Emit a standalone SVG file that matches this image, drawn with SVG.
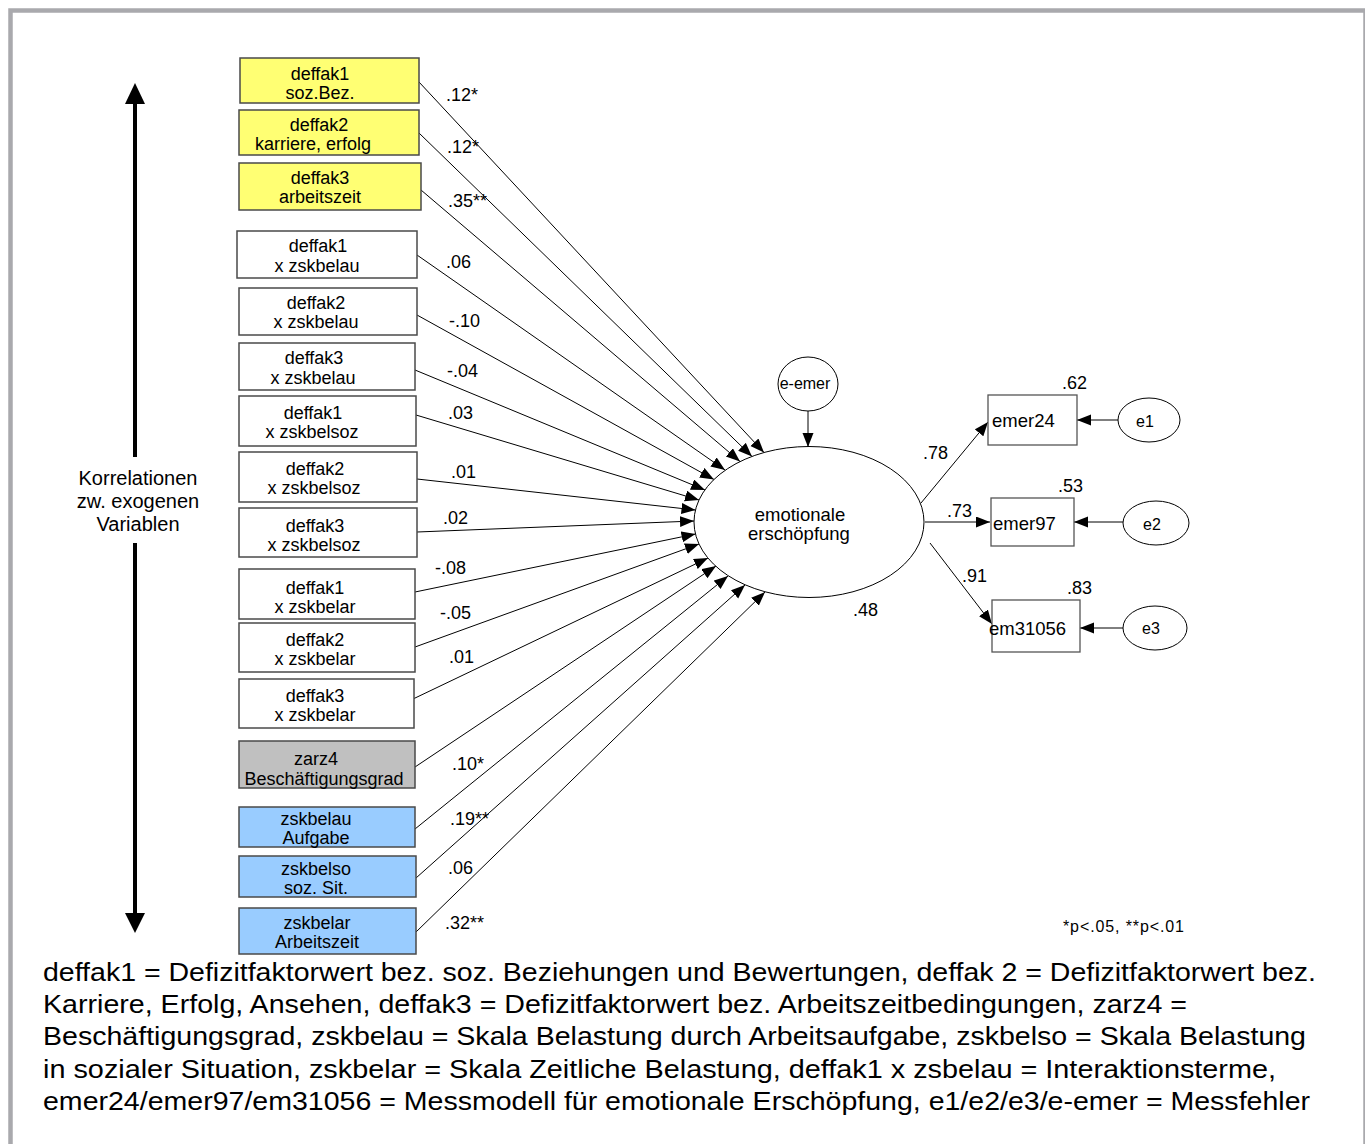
<svg xmlns="http://www.w3.org/2000/svg" width="1365" height="1144" viewBox="0 0 1365 1144">
<defs>
<style>
text{font-family:"Liberation Sans",Arial,sans-serif;fill:#000}
.bx{stroke:#4a4a4a;stroke-width:1.5}
.y{fill:#ffff73}.w{fill:#fff}.g{fill:#c0c0c0}.b{fill:#99ccff}
.bt{font-size:18px;text-anchor:middle}
.lb{font-size:18px}
.c{stroke:#000;stroke-width:1;fill:none;marker-end:url(#ah)}
.ov{fill:#fff;stroke:#000;stroke-width:1}
.rb{fill:#fff;stroke:#555;stroke-width:1.3}
.foot{font-size:26.5px}
</style>
<marker id="ah" markerUnits="userSpaceOnUse" markerWidth="15" markerHeight="12" refX="14" refY="5.5" orient="auto">
<path d="M0,0 L14,5.5 L0,11 z" fill="#000"/>
</marker>
</defs>
<rect x="0" y="0" width="1365" height="1144" fill="#fff"/>
<rect x="10.5" y="10.5" width="1355" height="1140" fill="none" stroke="#a9a9ad" stroke-width="4.5"/>

<g id="corr-arrow">
<line x1="135" y1="100" x2="135" y2="457" stroke="#000" stroke-width="4"/>
<line x1="135" y1="543" x2="135" y2="916" stroke="#000" stroke-width="4"/>
<polygon points="135,83 125,104 145,104" fill="#000"/>
<polygon points="135,933 125,913 145,913" fill="#000"/>
<text x="138" y="485" font-size="20" text-anchor="middle">Korrelationen</text>
<text x="138" y="508" font-size="20" text-anchor="middle">zw. exogenen</text>
<text x="138" y="531" font-size="20" text-anchor="middle">Variablen</text>
</g>

<g id="connectors">
<line class="c" x1="419" y1="82" x2="764" y2="452.5"/>
<line class="c" x1="419" y1="133" x2="752" y2="456.5"/>
<line class="c" x1="421" y1="190" x2="740" y2="461.5"/>
<line class="c" x1="417" y1="255" x2="725" y2="470"/>
<line class="c" x1="417" y1="315" x2="714" y2="479.5"/>
<line class="c" x1="415" y1="370" x2="705" y2="490"/>
<line class="c" x1="416" y1="415" x2="699" y2="500"/>
<line class="c" x1="417" y1="479" x2="695.5" y2="510"/>
<line class="c" x1="417" y1="532" x2="694" y2="521"/>
<line class="c" x1="415" y1="592" x2="695.5" y2="534"/>
<line class="c" x1="415" y1="647" x2="699" y2="544"/>
<line class="c" x1="413" y1="699" x2="708" y2="558"/>
<line class="c" x1="415" y1="767" x2="716" y2="566"/>
<line class="c" x1="415" y1="829" x2="728" y2="576"/>
<line class="c" x1="416" y1="878" x2="745" y2="585"/>
<line class="c" x1="416" y1="932" x2="765" y2="592"/>
<line class="c" x1="808" y1="411" x2="808" y2="447"/>
<line class="c" x1="921" y1="503" x2="988" y2="422"/>
<line class="c" x1="925" y1="522" x2="990" y2="522"/>
<line class="c" x1="930" y1="543" x2="992" y2="624"/>
<line class="c" x1="1118" y1="420" x2="1077" y2="420"/>
<line class="c" x1="1123" y1="522" x2="1074" y2="522"/>
<line class="c" x1="1123" y1="628" x2="1080" y2="628"/>
<g class="lb">
<text x="446" y="101">.12*</text>
<text x="447" y="153">.12*</text>
<text x="448" y="207">.35**</text>
<text x="446" y="268">.06</text>
<text x="449" y="327">-.10</text>
<text x="447" y="377">-.04</text>
<text x="448" y="419">.03</text>
<text x="451" y="478">.01</text>
<text x="443" y="524">.02</text>
<text x="435" y="574">-.08</text>
<text x="440" y="619">-.05</text>
<text x="449" y="663">.01</text>
<text x="452" y="770">.10*</text>
<text x="450" y="825">.19**</text>
<text x="448" y="874">.06</text>
<text x="445" y="929">.32**</text>
<text x="923" y="459">.78</text>
<text x="947" y="517">.73</text>
<text x="962" y="582">.91</text>
<text x="853" y="616">.48</text>
<text x="1062" y="389">.62</text>
<text x="1058" y="492">.53</text>
<text x="1067" y="594">.83</text>
</g>
</g>

<g id="n1"><rect class="bx y" x="240" y="58" width="179" height="45"/><text class="bt" x="320" y="80">deffak1</text><text class="bt" x="320" y="99">soz.Bez.</text></g>
<g id="n2"><rect class="bx y" x="239" y="110" width="180" height="45"/><text class="bt" x="319" y="131">deffak2</text><text class="bt" x="313" y="150">karriere, erfolg</text></g>
<g id="n3"><rect class="bx y" x="239" y="163" width="182" height="47"/><text class="bt" x="320" y="184">deffak3</text><text class="bt" x="320" y="203">arbeitszeit</text></g>
<g id="n4"><rect class="bx w" x="237" y="231" width="180" height="47"/><text class="bt" x="318" y="252">deffak1</text><text class="bt" x="317" y="272">x zskbelau</text></g>
<g id="n5"><rect class="bx w" x="239" y="288" width="178" height="47"/><text class="bt" x="316" y="309">deffak2</text><text class="bt" x="316" y="328">x zskbelau</text></g>
<g id="n6"><rect class="bx w" x="239" y="343" width="176" height="47"/><text class="bt" x="314" y="364">deffak3</text><text class="bt" x="313" y="384">x zskbelau</text></g>
<g id="n7"><rect class="bx w" x="239" y="396" width="177" height="50"/><text class="bt" x="313" y="419">deffak1</text><text class="bt" x="312" y="438">x zskbelsoz</text></g>
<g id="n8"><rect class="bx w" x="239" y="452" width="178" height="50"/><text class="bt" x="315" y="475">deffak2</text><text class="bt" x="314" y="494">x zskbelsoz</text></g>
<g id="n9"><rect class="bx w" x="239" y="508" width="178" height="49"/><text class="bt" x="315" y="532">deffak3</text><text class="bt" x="314" y="551">x zskbelsoz</text></g>
<g id="n10"><rect class="bx w" x="239" y="569" width="176" height="50"/><text class="bt" x="315" y="594">deffak1</text><text class="bt" x="315" y="613">x zskbelar</text></g>
<g id="n11"><rect class="bx w" x="239" y="623" width="176" height="49"/><text class="bt" x="315" y="646">deffak2</text><text class="bt" x="315" y="665">x zskbelar</text></g>
<g id="n12"><rect class="bx w" x="239" y="679" width="175" height="49"/><text class="bt" x="315" y="702">deffak3</text><text class="bt" x="315" y="721">x zskbelar</text></g>
<g id="n13"><rect class="bx g" x="239" y="741" width="176" height="47"/><text class="bt" x="316" y="765">zarz4</text><text class="bt" x="324" y="785">Beschäftigungsgrad</text></g>
<g id="n14"><rect class="bx b" x="239" y="807" width="176" height="40"/><text class="bt" x="316" y="825">zskbelau</text><text class="bt" x="316" y="844">Aufgabe</text></g>
<g id="n15"><rect class="bx b" x="239" y="856" width="177" height="41"/><text class="bt" x="316" y="875">zskbelso</text><text class="bt" x="316" y="894">soz. Sit.</text></g>
<g id="n16"><rect class="bx b" x="239" y="908" width="177" height="46"/><text class="bt" x="317" y="929">zskbelar</text><text class="bt" x="317" y="948">Arbeitszeit</text></g>

<g id="e-emer"><ellipse class="ov" cx="808" cy="384" rx="30" ry="27"/><text x="805" y="389" font-size="16" text-anchor="middle">e-emer</text></g>
<g id="emotionale"><ellipse class="ov" cx="809" cy="522" rx="115" ry="75.5"/><text x="800" y="521" font-size="18.5" text-anchor="middle">emotionale</text><text x="799" y="540" font-size="18.5" text-anchor="middle">erschöpfung</text></g>
<g id="emer24"><rect class="rb" x="988" y="395" width="89" height="50"/><text x="992" y="427" font-size="18.5">emer24</text></g>
<g id="emer97"><rect class="rb" x="991" y="498" width="83" height="48"/><text x="993" y="530" font-size="18.5">emer97</text></g>
<g id="em31056"><rect class="rb" x="992" y="600" width="88" height="52"/><text x="989" y="635" font-size="18.5">em31056</text></g>
<g id="e1"><ellipse class="ov" cx="1149" cy="420" rx="31" ry="22"/><text x="1145" y="427" font-size="16" text-anchor="middle">e1</text></g>
<g id="e2"><ellipse class="ov" cx="1156" cy="523" rx="33" ry="22"/><text x="1152" y="530" font-size="16" text-anchor="middle">e2</text></g>
<g id="e3"><ellipse class="ov" cx="1155" cy="628" rx="32" ry="22"/><text x="1151" y="634" font-size="16" text-anchor="middle">e3</text></g>

<text x="1063" y="932" font-size="16" textLength="121" lengthAdjust="spacing">*p&lt;.05, **p&lt;.01</text>

<g id="legend">
<text class="foot" x="43" y="981" textLength="1273" lengthAdjust="spacingAndGlyphs">deffak1 = Defizitfaktorwert bez. soz. Beziehungen und Bewertungen, deffak 2 = Defizitfaktorwert bez.</text>
<text class="foot" x="43" y="1013" textLength="1144" lengthAdjust="spacingAndGlyphs">Karriere, Erfolg, Ansehen, deffak3 = Defizitfaktorwert bez. Arbeitszeitbedingungen, zarz4 =</text>
<text class="foot" x="43" y="1045" textLength="1263" lengthAdjust="spacingAndGlyphs">Beschäftigungsgrad, zskbelau = Skala Belastung durch Arbeitsaufgabe, zskbelso = Skala Belastung</text>
<text class="foot" x="43" y="1078" textLength="1233" lengthAdjust="spacingAndGlyphs">in sozialer Situation, zskbelar = Skala Zeitliche Belastung, deffak1 x zsbelau = Interaktionsterme,</text>
<text class="foot" x="43" y="1110" textLength="1267" lengthAdjust="spacingAndGlyphs">emer24/emer97/em31056 = Messmodell für emotionale Erschöpfung, e1/e2/e3/e-emer = Messfehler</text>
</g>
</svg>
